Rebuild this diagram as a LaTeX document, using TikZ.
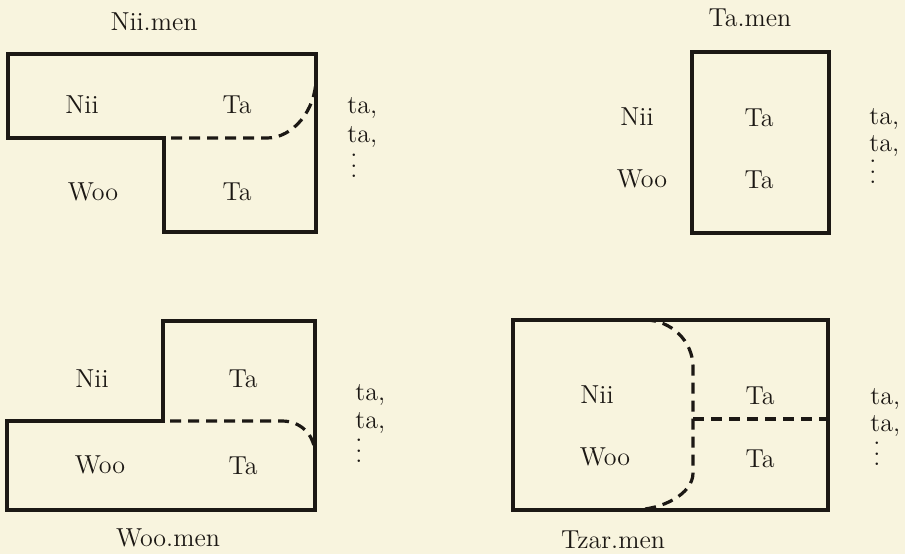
\documentclass[tikz,border=0pt]{standalone}
\usepackage{xcolor}
\definecolor{paper}{RGB}{248,244,222}
\definecolor{ink}{RGB}{28,24,20}
\newcommand{\mydots}{\vbox{\baselineskip=5.2pt\lineskiplimit=-20pt\hbox{.}\hbox{.}\hbox{.}}}
\begin{document}
\begin{tikzpicture}[x=0.5pt,y=-0.5pt,
  wall/.style={draw=ink, line width=1.8pt, line join=miter},
  divide/.style={draw=ink, line width=1.6pt, dash pattern=on 5.5pt off 3.5pt},
  lbl/.style={anchor=base, inner sep=0pt, text=ink, font=\fontsize{13}{15}\selectfont},
  lst/.style={anchor=base west, inner sep=0pt, text=ink, font=\fontsize{13}{15}\selectfont},
  more/.style={anchor=north, inner sep=0pt, text=ink, font=\fontsize{13}{15}\selectfont}]
\fill[paper] (0,0) rectangle (905,554);
\useasboundingbox (0,0) rectangle (905,554);

% ---------- Panel 1: Nii.men ----------
\draw[wall] (8,54) -- (316,54) -- (316,232) -- (164,232) -- (164,138) -- (8,138) -- cycle;
\draw[divide, dash phase=5.5pt] (164,138) -- (267,138) .. controls (293,138) and (316,110) .. (316,78);
\node[lbl] (t1) at (154,30) {Nii.men};
\node[lbl] (a1) at (82,113) {Nii};
\node[lbl] (b1) at (237,113) {Ta};
\node[lbl] (c1) at (93,200) {Woo};
\node[lbl] (d1) at (237,200) {Ta};
\node[lst] (e1) at (347,113) {ta,};
\node[lst] (f1) at (347,142) {ta,};
\node[more] (g1) at (354,154) {\mydots};

% ---------- Panel 2: Ta.men ----------
\draw[wall] (692,52) rectangle (829,233);
\node[lbl] (t2) at (750,26) {Ta.men};
\node[lbl] (a2) at (637,125) {Nii};
\node[lbl] (b2) at (759,126) {Ta};
\node[lbl] (c2) at (642,187) {Woo};
\node[lbl] (d2) at (759,188) {Ta};
\node[lst] (e2) at (869,124) {ta,};
\node[lst] (f2) at (869,151) {ta,};
\node[more] (g2) at (873,160) {\mydots};

% ---------- Panel 3: Woo.men ----------
\draw[wall] (163,321) -- (315,321) -- (315,510) -- (7,510) -- (7,421) -- (163,421) -- cycle;
\draw[divide, dash phase=5.5pt] (163,421) -- (282,421) .. controls (300,421) and (315,434) .. (315,455);
\node[lbl] (t3) at (168,546) {Woo.men};
\node[lbl] (a3) at (92,387) {Nii};
\node[lbl] (b3) at (243,387) {Ta};
\node[lbl] (c3) at (100,473) {Woo};
\node[lbl] (d3) at (243,474) {Ta};
\node[lst] (e3) at (355,400) {ta,};
\node[lst] (f3) at (355,428) {ta,};
\node[more] (g3) at (359,439) {\mydots};

% ---------- Panel 4: Tzar.men ----------
\draw[wall] (513,320) rectangle (828,510);
\draw[divide] (645,320) .. controls (671,320) and (693,341) .. (693,367) -- (693,473) .. controls (693,494) and (662,510) .. (632,510);
\draw[divide] (693,419) -- (828,419);
\node[lbl] (t4) at (613,548) {Tzar.men};
\node[lbl] (a4) at (597,403) {Nii};
\node[lbl] (b4) at (760,404) {Ta};
\node[lbl] (c4) at (605,465) {Woo};
\node[lbl] (d4) at (760,467) {Ta};
\node[lst] (e4) at (870,404) {ta,};
\node[lst] (f4) at (870,431) {ta,};
\node[more] (g4) at (877,442) {\mydots};
\end{tikzpicture}
\end{document}
